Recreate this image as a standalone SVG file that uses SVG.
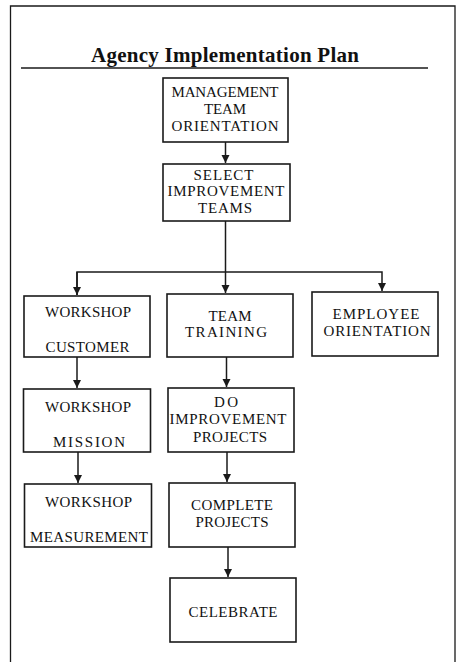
<svg xmlns="http://www.w3.org/2000/svg" width="457" height="662" viewBox="0 0 457 662">
  <style>
    .frame { fill: none; stroke: #1a1a1a; stroke-width: 1.3; }
    .rule { stroke: #1a1a1a; stroke-width: 1.6; }
    .box { fill: #ffffff; stroke: #1a1a1a; stroke-width: 1.6; }
    .edge { fill: none; stroke: #1a1a1a; stroke-width: 1.5; }
    .title { font-family: "Liberation Serif", "Times New Roman", serif; font-weight: bold; font-size: 21px; fill: #111; text-anchor: middle; }
    .lbl { font-family: "Liberation Serif", "Times New Roman", serif; font-size: 15px; fill: #111; text-anchor: middle; }
  </style>
  <defs>
    <marker id="arrow" viewBox="0 0 8 10" refX="8" refY="5" markerWidth="8" markerHeight="10" markerUnits="userSpaceOnUse" orient="auto">
      <path d="M0,1 L8,5 L0,9 Z" fill="#1a1a1a"/>
    </marker>
  </defs>

  <rect width="457" height="662" fill="#ffffff"/>

  <!-- page frame, open at the bottom -->
  <path class="frame" d="M10.5,662 V6 H455 V662"/>

  <!-- heading -->
  <g id="heading">
    <text class="title" x="225" y="61.5" textLength="268" lengthAdjust="spacing">Agency Implementation Plan</text>
    <line class="rule" x1="21" y1="68" x2="428" y2="68"/>
  </g>

  <!-- connectors -->
  <g id="connectors">
    <line class="edge" x1="225.5" y1="142" x2="225.5" y2="163" marker-end="url(#arrow)"/>
    <line class="edge" x1="225.5" y1="221" x2="225.5" y2="293" marker-end="url(#arrow)"/>
    <path class="edge" d="M77,295 V272 H382 V291" marker-end="url(#arrow)"/>
    <line class="edge" x1="77" y1="272" x2="77" y2="295" marker-end="url(#arrow)"/>
    <line class="edge" x1="77" y1="357" x2="77" y2="388" marker-end="url(#arrow)"/>
    <line class="edge" x1="78" y1="452" x2="78" y2="483" marker-end="url(#arrow)"/>
    <line class="edge" x1="226.5" y1="357" x2="226.5" y2="387" marker-end="url(#arrow)"/>
    <line class="edge" x1="227" y1="452" x2="227" y2="482" marker-end="url(#arrow)"/>
    <line class="edge" x1="228" y1="547" x2="228" y2="577" marker-end="url(#arrow)"/>
  </g>

  <g id="management-team-orientation">
    <rect class="box" x="163" y="78" width="125" height="64"/>
    <text class="lbl" x="225" y="97" textLength="107" lengthAdjust="spacing">MANAGEMENT</text>
    <text class="lbl" x="225" y="113.5" textLength="42" lengthAdjust="spacing">TEAM</text>
    <text class="lbl" x="225" y="130.5" textLength="107" lengthAdjust="spacing">ORIENTATION</text>
  </g>

  <g id="select-improvement-teams">
    <rect class="box" x="163" y="164" width="127" height="57"/>
    <text class="lbl" x="223.5" y="180" textLength="60" lengthAdjust="spacing">SELECT</text>
    <text class="lbl" x="226" y="196" textLength="117" lengthAdjust="spacing">IMPROVEMENT</text>
    <text class="lbl" x="225" y="212.5" textLength="54" lengthAdjust="spacing">TEAMS</text>
  </g>

  <g id="workshop-customer">
    <rect class="box" x="24" y="296" width="126" height="61"/>
    <text class="lbl" x="88" y="317" textLength="86" lengthAdjust="spacing">WORKSHOP</text>
    <text class="lbl" x="87.5" y="352" textLength="84" lengthAdjust="spacing">CUSTOMER</text>
  </g>

  <g id="team-training">
    <rect class="box" x="167" y="294" width="126" height="63"/>
    <text class="lbl" x="230" y="321" textLength="43" lengthAdjust="spacing">TEAM</text>
    <text class="lbl" x="226" y="337" textLength="82" lengthAdjust="spacing">TRAINING</text>
  </g>

  <g id="employee-orientation">
    <rect class="box" x="312" y="292" width="126" height="64"/>
    <text class="lbl" x="376" y="319" textLength="87" lengthAdjust="spacing">EMPLOYEE</text>
    <text class="lbl" x="377" y="336" textLength="107" lengthAdjust="spacing">ORIENTATION</text>
  </g>

  <g id="workshop-mission">
    <rect class="box" x="23.5" y="389" width="127" height="63"/>
    <text class="lbl" x="88" y="412" textLength="86" lengthAdjust="spacing">WORKSHOP</text>
    <text class="lbl" x="89" y="447" textLength="72" lengthAdjust="spacing">MISSION</text>
  </g>

  <g id="do-improvement-projects">
    <rect class="box" x="168" y="388" width="126" height="64"/>
    <text class="lbl" x="226" y="407" textLength="24" lengthAdjust="spacing">DO</text>
    <text class="lbl" x="228" y="424" textLength="117" lengthAdjust="spacing">IMPROVEMENT</text>
    <text class="lbl" x="230" y="442" textLength="74" lengthAdjust="spacing">PROJECTS</text>
  </g>

  <g id="workshop-measurement">
    <rect class="box" x="24.5" y="484" width="127" height="63"/>
    <text class="lbl" x="88.5" y="507" textLength="87" lengthAdjust="spacing">WORKSHOP</text>
    <text class="lbl" x="89" y="542" textLength="118" lengthAdjust="spacing">MEASUREMENT</text>
  </g>

  <g id="complete-projects">
    <rect class="box" x="169" y="483" width="126" height="64"/>
    <text class="lbl" x="232" y="510" textLength="82" lengthAdjust="spacing">COMPLETE</text>
    <text class="lbl" x="232" y="527" textLength="73" lengthAdjust="spacing">PROJECTS</text>
  </g>

  <g id="celebrate">
    <rect class="box" x="170" y="578" width="126" height="64"/>
    <text class="lbl" x="233" y="617" textLength="89" lengthAdjust="spacing">CELEBRATE</text>
  </g>
</svg>
